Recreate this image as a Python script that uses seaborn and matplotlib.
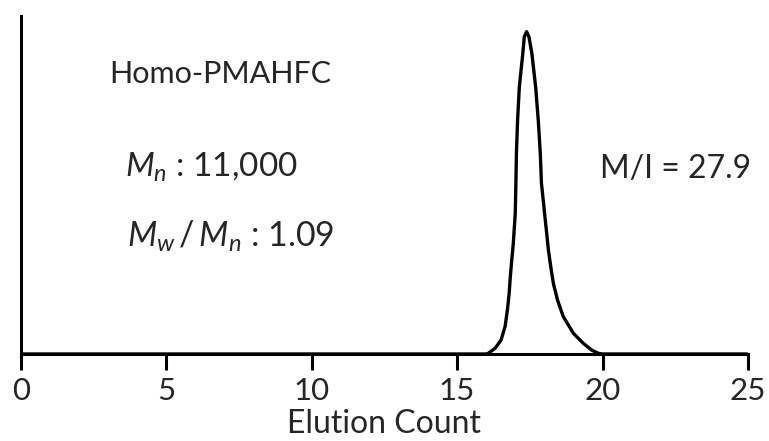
import matplotlib
matplotlib.use("Agg")
import matplotlib.pyplot as plt
import seaborn as sns
import pandas as pd

# GPC trace of Homo-PMAHFC (normalised detector response vs elution count)
elution = [0.0, 16.00, 16.07, 16.31, 16.51, 16.65, 16.73, 16.79, 16.83, 16.88,
           16.93, 17.00, 17.02, 17.04, 17.08, 17.14, 17.26, 17.31, 17.39, 17.47,
           17.57, 17.70, 17.79, 17.86, 17.90, 17.96, 18.02, 18.08, 18.14, 18.22,
           18.31, 18.45, 18.65, 19.00, 19.34, 19.63, 19.86, 20.00, 25.0]
response = [0.0, 0.0, 0.002, 0.018, 0.043, 0.085, 0.137, 0.188, 0.240, 0.292,
            0.340, 0.437, 0.522, 0.623, 0.726, 0.829, 0.933, 0.984, 1.0, 0.984,
            0.933, 0.829, 0.726, 0.623, 0.530, 0.478, 0.426, 0.374, 0.322, 0.271,
            0.219, 0.168, 0.116, 0.064, 0.033, 0.012, 0.002, 0.0, 0.0]
x_ticks = [0, 5, 10, 15, 20, 25]

sample_name = "Homo-PMAHFC"
mn_text = r"$M_n$ : 11,000"
pdi_text = r"$M_w\,/\,M_n$ : 1.09"
ratio_text = "M/I = 27.9"

sns.set_style("white")
plt.rcParams["font.family"] = ["Lato", "DejaVu Sans"]
plt.rcParams["mathtext.fontset"] = "custom"
plt.rcParams["mathtext.it"] = "Lato:italic"
plt.rcParams["mathtext.rm"] = "Lato"

W, H = 769, 441
fig = plt.figure(figsize=(W / 100, H / 100), dpi=100)
ax = fig.add_axes([20.7 / W, 1 - 354 / H, (748 - 20.7) / W, (354 - 16) / H])

df = pd.DataFrame({"Elution Count": elution, "Response": response})
sns.lineplot(data=df, x="Elution Count", y="Response", ax=ax, color="black",
             linewidth=2.4, sort=False, solid_joinstyle="round")

ax.set_xlim(0, 25)
ax.set_ylim(0, 1.0487)
ax.set_xticks(x_ticks)
ax.set_xticklabels([str(t) for t in x_ticks])
ax.set_yticks([])
ax.set_ylabel("")
ax.set_xlabel("Elution Count", fontsize=23, labelpad=3)

for side in ["top", "right"]:
    ax.spines[side].set_visible(False)
for side in ["left", "bottom"]:
    ax.spines[side].set_linewidth(2.2)
    ax.spines[side].set_color("black")
    ax.spines[side].set_capstyle("projecting")

ax.tick_params(axis="x", direction="out", length=11.5, width=2.2,
               labelsize=22.5, pad=5, color="black", bottom=True)


def ftext(px, py, s, **kw):
    fig.text(px / W, 1 - py / H, s, va="baseline", ha="left", **kw)


ftext(109, 83.3, sample_name, fontsize=22)
ftext(125, 177, mn_text, fontsize=24)
ftext(127, 247, pdi_text, fontsize=24.5)
ftext(600, 178, ratio_text, fontsize=23)

fig.savefig("out.png", dpi=100, facecolor="white")
